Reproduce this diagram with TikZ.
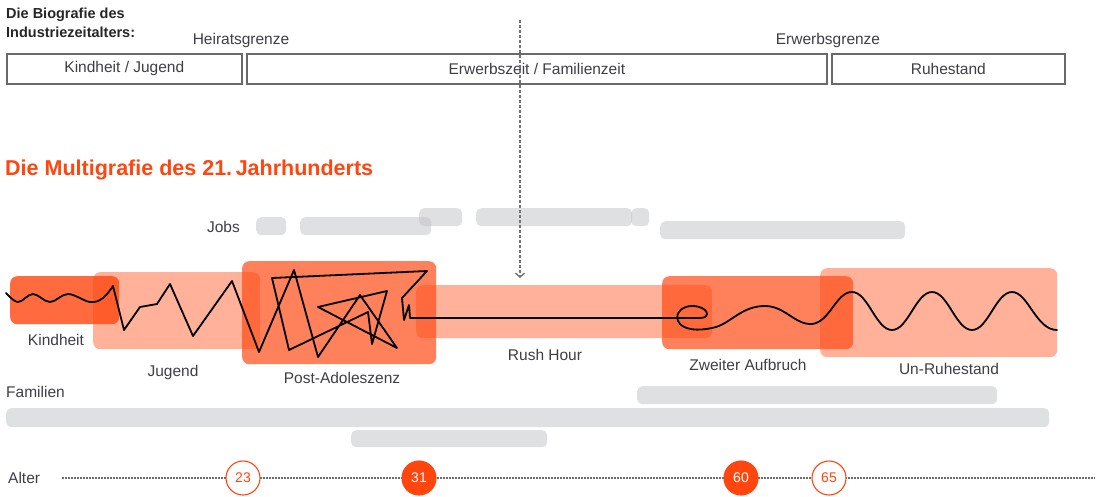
\documentclass[tikz,border=0pt]{standalone}
\usepackage{fontspec}
\setmainfont{Liberation Sans}
\usetikzlibrary{arrows.meta}
\definecolor{orng}{RGB}{255,70,15}
\definecolor{txt}{RGB}{62,62,68}
\definecolor{barg}{RGB}{192,193,198}
\definecolor{frame}{RGB}{105,105,105}
\begin{document}
\begin{tikzpicture}[x=1pt,y=-1pt,
  lbl/.style={text=txt, font=\fontsize{15.5}{17}\selectfont, inner sep=0pt},
  phasebox/.style={draw=frame, line width=1.7pt, minimum height=30pt, inner sep=0pt, anchor=north west},
  bar/.style={fill=barg, fill opacity=0.5, draw=none, rounded corners=5pt, inner sep=0pt, minimum height=18pt, anchor=north west},
  olight/.style={fill=orng, fill opacity=0.42, draw=none, rounded corners=7pt, inner sep=0pt, anchor=north west},
  omed/.style={fill=orng, fill opacity=0.68, draw=none, rounded corners=7pt, inner sep=0pt, anchor=north west},
  ostrong/.style={fill=orng, fill opacity=0.8, draw=none, rounded corners=7pt, inner sep=0pt, anchor=north west},
  agecircle/.style={circle, minimum size=34pt, inner sep=0pt, draw=orng, line width=1.1pt, font=\fontsize{14}{15}\selectfont},
  ageopen/.style={agecircle, fill=white, text=orng},
  agefull/.style={agecircle, fill=orng, text=white},
  life/.style={draw=black, line width=1.8pt, line join=round, line cap=round}
]
\useasboundingbox (0,0) rectangle (1102,496);

% ---------- top: Biografie des Industriezeitalters
\node[anchor=north west, inner sep=0pt, align=left, text=black!85, font=\bfseries\fontsize{14.5}{19}\selectfont] (bio) at (6,8) {Die Biografie des\\Industriezeitalters:};
\node[lbl] (heirat) at (241,40) {Heiratsgrenze};
\node[lbl] (erwerb) at (828,40) {Erwerbsgrenze};
\node[phasebox, minimum width=235pt] (kj) at (6,53) {};
\node[phasebox, minimum width=580pt] (ef) at (246,53) {};
\node[phasebox, minimum width=233pt] (rs) at (831,53) {};
\node[lbl] (kjt) at (kj.center) {Kindheit / Jugend};
\node[lbl] (eft) at (ef.center) {Erwerbszeit / Familienzeit};
\node[lbl] (rst) at (rs.center) {Ruhestand};

% ---------- title
\node[anchor=west, inner sep=0pt, text=orng, font=\bfseries\fontsize{21.5}{23}\selectfont] (title) at (5,170) {Die Multigrafie des 21.\,Jahrhunderts};

% ---------- jobs
\node[lbl, anchor=east] (jobs) at (240,227) {Jobs};
\node[bar, minimum width=30pt] (j1) at (256,217) {};
\node[bar, minimum width=131pt] (j2) at (300,217) {};
\node[bar, minimum width=43pt] (j3) at (419,208) {};
\node[bar, minimum width=156pt] (j4) at (476,208) {};
\node[bar, minimum width=18pt] (j5) at (631,208) {};
\node[bar, minimum width=245pt] (j6) at (660,221) {};

% ---------- phase boxes
\node[olight, minimum width=167pt, minimum height=77pt] (bjug) at (93,272) {};
\node[ostrong, minimum width=109pt, minimum height=48pt] (bkind) at (10,276) {};
\node[omed, minimum width=194pt, minimum height=103pt] (bpost) at (242,261) {};
\node[olight, minimum width=296pt, minimum height=53pt] (brush) at (416,285) {};
\node[omed, minimum width=191pt, minimum height=73pt] (bzweit) at (662,276) {};
\node[olight, minimum width=237pt, minimum height=89pt] (bun) at (820,268) {};

% ---------- dashed arrow
\coordinate (atop) at (520,20);
\coordinate (abot) at (520,278);
\draw[gray!90!black, line width=1.4pt, dash pattern=on 3pt off 2pt, -{Straight Barb[length=4pt,width=9pt]}] (atop) -- (abot);

% ---------- life line
\draw[life]
  plot[smooth, tension=0.6] coordinates {(6,293) (18,302) (33,294) (50,302) (68,294) (90,302) (103,298) (113,286)}
  -- (124,330) -- (140,307) -- (157,304) -- (170,284) -- (193,336) -- (232,281)
  -- (259,352) -- (294,270) -- (318,357) -- (360,295) -- (397,348) -- (318,307)
  -- (387,291) -- (372,344) -- (368,312) -- (289,350) -- (272,278) -- (427,271)
  -- (402,298) -- (404,320) -- (409,305) -- (410,318) -- (700,318)
  .. controls (712,318) and (708,306) .. (692,306)
  .. controls (680,306) and (673,316) .. (680,324)
  .. controls (688,332) and (705,330) .. (716,327)
  .. controls (732,322) and (742,306) .. (765,306)
  .. controls (785,306) and (795,325) .. (812,324)
  .. controls (830,322) and (836,292) .. (852,292)
  .. controls (868,292) and (876,330) .. (892,330)
  .. controls (908,330) and (916,292) .. (932,292)
  .. controls (948,292) and (956,330) .. (972,330)
  .. controls (988,330) and (996,292) .. (1012,292)
  .. controls (1028,292) and (1036,330) .. (1057,330);

% ---------- phase labels
\node[lbl] (lkind) at (56,340) {Kindheit};
\node[lbl] (ljug) at (173,372) {Jugend};
\node[lbl] (lpost) at (342,378) {Post-Adoleszenz};
\node[lbl] (lrush) at (545,355) {Rush Hour};
\node[lbl] (lzweit) at (748,365) {Zweiter Aufbruch};
\node[lbl] (lun) at (949,369) {Un-Ruhestand};

% ---------- families
\node[lbl, anchor=west] (fam) at (6,392) {Familien};
\node[bar, minimum width=360pt] (f1) at (637,386) {};
\node[bar, minimum width=1043pt, minimum height=19pt] (f2) at (6,408) {};
\node[bar, minimum width=196pt, minimum height=17pt] (f3) at (351,430) {};

% ---------- age axis
\node[lbl, anchor=west] (alter) at (8,478) {Alter};
\coordinate (axs) at (62,478);
\coordinate (axe) at (1095,478);
\draw[gray!85!black, line width=1.5pt, dash pattern=on 1.5pt off 1.5pt] (axs) -- (axe);
\node[ageopen] (a23) at (243,478) {23};
\node[agefull] (a31) at (419,478) {31};
\node[agefull] (a60) at (741,478) {60};
\node[ageopen] (a65) at (829,478) {65};
\end{tikzpicture}
\end{document}
